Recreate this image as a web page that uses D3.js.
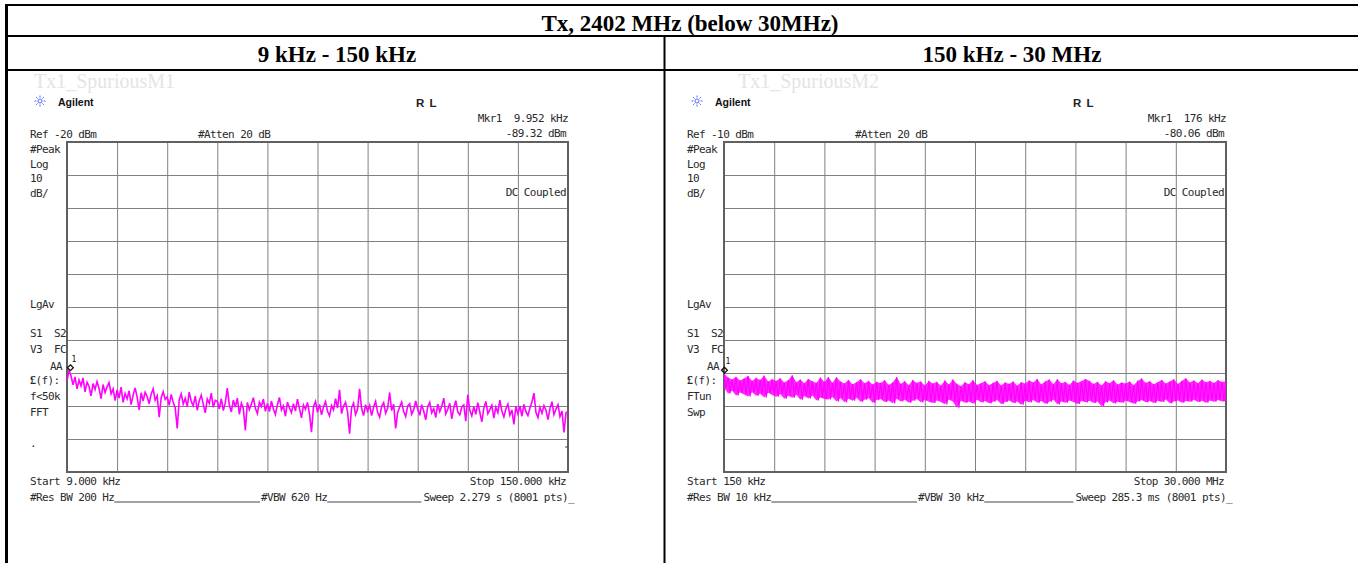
<!DOCTYPE html>
<html><head><meta charset="utf-8">
<script src="https://cdn.jsdelivr.net/npm/d3@7"></script>
<style>body{margin:0;background:#fff;} svg{display:block}</style>
</head><body>
<script>
// ---------------- DATA ----------------
const titleText = "Tx, 2402 MHz (below 30MHz)";
const bandTitles = ["9 kHz - 150 kHz", "150 kHz - 30 MHz"];
const plotNames = ["Tx1_SpuriousM1", "Tx1_SpuriousM2"];

const leftRefDbm = -20, rightRefDbm = -10;
const leftSpanKHz = [9, 150];
const rightSpanKHz = [150, 30000];
const leftMarker = {f: 9.952, v: -89.32};
const rightMarker = {f: 176, v: -80.06};

// left trace, dBm, sweep 9 kHz -> 150 kHz
const leftTrace = [
 -92.4,-89.3,-90.8,-93.6,-91.2,-94.8,-92.1,-93.9,-91.5,-95.7,-92.8,-94.1,-96.9,-93.2,-95.0,-92.6,-94.7,-97.8,-93.5,-95.9,-94.2,-92.9,-96.3,-94.8,-98.4,
 -95.1,-97.6,-94.3,-98.9,-96.2,-97.8,-95.4,-99.6,-96.7,-94.5,-97.3,-101.2,-96.0,-98.5,-95.8,-97.1,-99.3,-96.4,-94.8,-98.2,-96.9,-103.4,-97.5,-95.7,-98.0,
 -97.2,-99.8,-96.5,-98.9,-100.6,-106.8,-98.1,-96.3,-99.4,-97.7,-100.2,-95.8,-98.6,-99.9,-97.0,-101.3,-98.4,-96.7,-99.5,-102.1,-97.9,-99.2,-96.1,-100.4,-98.3,
 -98.6,-100.9,-97.8,-101.4,-99.0,-94.6,-99.7,-101.8,-98.2,-100.3,-97.6,-102.5,-99.1,-100.8,-107.4,-98.9,-101.1,-99.4,-97.5,-100.7,-102.3,-98.8,-100.1,-97.9,-101.6,
 -99.2,-101.7,-98.5,-100.9,-102.6,-99.6,-97.4,-101.2,-100.0,-103.1,-98.8,-100.6,-102.0,-99.3,-101.5,-97.9,-100.8,-103.6,-99.7,-101.0,-98.9,-102.4,-107.9,-100.2,-98.6,
 -101.9,-99.5,-102.7,-100.3,-98.7,-101.6,-103.0,-99.9,-101.2,-97.8,-100.6,-95.1,-102.3,-100.0,-98.9,-101.8,-108.4,-100.5,-99.1,-102.6,-101.0,-94.8,-100.7,-102.9,-99.6,
 -101.5,-99.8,-102.9,-100.4,-98.6,-101.9,-103.4,-100.1,-99.0,-102.2,-100.7,-95.9,-101.4,-99.5,-106.8,-102.0,-100.3,-98.8,-101.7,-103.2,-100.0,-99.3,-102.5,-101.1,-98.5,
 -100.9,-102.8,-99.6,-101.5,-104.2,-100.2,-98.9,-102.1,-100.8,-103.5,-99.4,-101.7,-100.1,-97.6,-102.4,-101.0,-99.2,-103.9,-100.6,-98.4,-101.8,-102.7,-100.3,-99.7,-104.6,
 -96.6,-101.3,-103.0,-100.2,-102.5,-99.0,-101.9,-104.8,-100.7,-98.6,-102.3,-101.1,-99.8,-103.7,-100.4,-102.0,-98.2,-101.5,-103.3,-100.9,-99.4,-102.8,-101.2,-105.6,-100.1,
 -102.4,-100.0,-103.1,-99.5,-101.7,-102.9,-100.6,-98.8,-96.1,-101.9,-103.5,-100.4,-102.2,-99.9,-101.3,-104.1,-100.8,-98.7,-102.6,-101.0,-99.6,-103.2,-101.5,-108.0,-102.1,-101.6
];

// right trace envelope (peak / floor per sweep bucket), dBm, 150 kHz -> 30 MHz
const rightTraceHi = [
 -80.1,-81.4,-82.0,-81.2,-82.3,-81.7,-80.9,-82.4,-81.5,-82.1,-80.8,-82.6,-81.9,
 -82.4,-81.6,-82.9,-82.2,-80.7,-82.8,-82.0,-83.1,-81.8,-82.5,-83.0,-81.4,-82.7,
 -81.2,-83.0,-81.3,-82.6,-83.2,-82.1,-83.4,-82.8,-81.9,-83.1,-82.4,-83.5,-82.7,
 -83.0,-82.2,-83.6,-82.9,-81.2,-83.3,-82.5,-83.7,-82.1,-83.0,-82.6,-83.8,-82.4,
 -83.2,-82.7,-83.9,-82.3,-83.5,-82.0,-83.3,-84.0,-82.8,-83.4,-82.2,-83.6,-83.1,
 -82.5,-83.7,-83.0,-82.4,-83.8,-82.9,-83.3,-82.6,-83.9,-82.8,-83.2,-82.3,-82.9,
 -81.8,-83.5,-82.6,-82.0,-83.4,-81.9,-83.1,-82.7,-83.6,-82.3,-83.0,-82.5,-81.8,
 -82.4,-83.3,-82.7,-83.8,-82.5,-83.1,-82.2,-83.5,-82.9,-83.2,-82.6,-83.7,-82.4,
 -81.7,-83.0,-82.5,-83.4,-82.8,-82.1,-83.2,-82.6,-81.9,-83.3,-82.4,-81.6,-82.9,
 -82.3,-83.1,-82.0,-82.8,-82.4,-83.0,-82.2,-82.7,-82.5
];
const rightTraceLo = [
 -84.5,-86.2,-85.4,-86.8,-85.9,-86.5,-87.1,-85.8,-86.9,-86.3,-87.4,-86.0,-86.7,
 -87.2,-86.4,-87.8,-86.9,-87.5,-86.6,-88.1,-87.0,-87.7,-86.8,-88.3,-87.4,-87.9,
 -88.0,-87.3,-88.6,-87.6,-88.9,-87.8,-88.4,-87.5,-88.7,-88.1,-87.6,-89.0,-88.2,
 -87.9,-88.8,-88.3,-89.2,-87.8,-88.6,-88.1,-89.0,-88.4,-87.9,-88.9,-88.2,-88.7,
 -89.1,-88.3,-88.8,-89.5,-88.0,-88.7,-90.5,-88.4,-89.0,-88.6,-89.3,-88.1,-88.9,
 -88.5,-89.2,-88.7,-88.2,-89.4,-88.8,-88.3,-89.1,-88.6,-89.6,-88.4,-88.9,-88.2,
 -89.0,-88.5,-89.3,-88.7,-88.1,-89.5,-88.6,-89.0,-88.3,-88.8,-89.4,-88.5,-88.9,
 -88.4,-89.1,-88.6,-90.1,-88.9,-88.3,-89.2,-88.7,-89.0,-88.4,-88.8,-89.3,-88.6,
 -88.2,-88.9,-88.5,-89.1,-88.4,-88.8,-88.0,-89.2,-88.6,-88.3,-89.0,-88.5,-88.7,
 -88.1,-88.8,-88.4,-89.0,-88.3,-88.7,-88.2,-88.6,-88.4
];

const leftTexts = {
  ref: "Ref -20 dBm", atten: "#Atten 20 dB", mkr: "Mkr1  9.952 kHz", mkrVal: "-89.32 dBm",
  side2: "f<50k", side3: "FFT", start: "Start 9.000 kHz", stop: "Stop 150.000 kHz",
  rbw: "#Res BW 200 Hz", vbw: "#VBW 620 Hz", sweep: "Sweep 2.279 s (8001 pts)_"
};
const rightTexts = {
  ref: "Ref -10 dBm", atten: "#Atten 20 dB", mkr: "Mkr1  176 kHz", mkrVal: "-80.06 dBm",
  side2: "FTun", side3: "Swp", start: "Start 150 kHz", stop: "Stop 30.000 MHz",
  rbw: "#Res BW 10 kHz", vbw: "#VBW 30 kHz", sweep: "Sweep 285.3 ms (8001 pts)_"
};
const commonSide = ["#Peak", "Log", "10", "dB/"];

// ---------------- LAYOUT ----------------
const W = 1358, H = 563;
const svg = d3.select("body").append("svg").attr("width", W).attr("height", H);
svg.append("rect").attr("width", W).attr("height", H).attr("fill", "#fff");

const serif = "'Liberation Serif','Times New Roman',serif";
const mono = "'DejaVu Sans Mono',monospace";
const sans = "'Liberation Sans',Arial,sans-serif";

// table
const tbl = svg.append("g").attr("stroke", "#000");
tbl.append("line").attr("x1", 5).attr("x2", W).attr("y1", 5).attr("y2", 5).attr("stroke-width", 2);
tbl.append("line").attr("x1", 5).attr("x2", W).attr("y1", 36).attr("y2", 36).attr("stroke-width", 2);
tbl.append("line").attr("x1", 5).attr("x2", W).attr("y1", 70).attr("y2", 70).attr("stroke-width", 2);
tbl.append("line").attr("x1", 6.5).attr("x2", 6.5).attr("y1", 4).attr("y2", H).attr("stroke-width", 3);
tbl.append("line").attr("x1", 664.5).attr("x2", 664.5).attr("y1", 36).attr("y2", H).attr("stroke-width", 2);

svg.append("text").attr("x", 690).attr("y", 31).attr("text-anchor", "middle")
  .attr("font-family", serif).attr("font-weight", "bold").attr("font-size", 23).text(titleText);
const bandCx = [337, 1012];
bandTitles.forEach((t, i) => svg.append("text").attr("x", bandCx[i]).attr("y", 62)
  .attr("text-anchor", "middle").attr("font-family", serif).attr("font-weight", "bold")
  .attr("font-size", 23).text(t));
const nameX = [34, 738];
plotNames.forEach((t, i) => svg.append("text").attr("x", nameX[i]).attr("y", 88)
  .attr("font-family", serif).attr("font-size", 20).attr("fill", "#e4e4e4").text(t));

const panels = [
  {gx: 67, gy: 142, gw: 501, gh: 330, ref: leftRefDbm, span: leftSpanKHz, marker: leftMarker, texts: leftTexts, kind: "line", id: 0},
  {gx: 724, gy: 142, gw: 502, gh: 330, ref: rightRefDbm, span: rightSpanKHz, marker: rightMarker, texts: rightTexts, kind: "band", id: 1}
];

function txt(g, x, y, s, anchor) {
  return g.append("text").attr("x", x).attr("y", y).attr("text-anchor", anchor || "start")
    .attr("font-family", mono).attr("font-size", 11).attr("letter-spacing", "-0.6px")
    .attr("xml:space", "preserve").style("white-space", "pre")
    .attr("fill", "#2a2a2a").text(s);
}

panels.forEach(p => {
  const g = svg.append("g");
  const x = d3.scaleLinear().domain(p.span).range([p.gx, p.gx + p.gw]);
  const y = d3.scaleLinear().domain([p.ref - 100, p.ref]).range([p.gy + p.gh, p.gy]);
  const xTicks = d3.range(11).map(i => p.span[0] + i * (p.span[1] - p.span[0]) / 10);
  const yTicks = d3.range(11).map(i => p.ref - 10 * i);

  // grid via axes
  const gxAxis = g.append("g").attr("transform", `translate(0,${p.gy + p.gh})`)
    .call(d3.axisBottom(x).tickValues(xTicks).tickSize(-p.gh).tickFormat(""));
  const gyAxis = g.append("g").attr("transform", `translate(${p.gx},0)`)
    .call(d3.axisLeft(y).tickValues(yTicks).tickSize(-p.gw).tickFormat(""));
  [gxAxis, gyAxis].forEach(a => {
    a.select(".domain").remove();
    a.selectAll("line").attr("stroke", "#808080").attr("stroke-width", 1);
  });
  g.append("rect").attr("x", p.gx).attr("y", p.gy).attr("width", p.gw).attr("height", p.gh)
    .attr("fill", "none").attr("stroke", "#606060").attr("stroke-width", 2);

  // header: logo
  const lx = p.gx - 27, ly = 101;
  const star = g.append("g").attr("transform", `translate(${lx},${ly})`).attr("stroke", "#5566ff").attr("stroke-width", 1);
  star.append("circle").attr("r", 2).attr("fill", "none");
  d3.range(8).forEach(k => {
    const a = k * Math.PI / 4;
    star.append("line").attr("x1", Math.cos(a) * 3.5).attr("y1", Math.sin(a) * 3.5)
      .attr("x2", Math.cos(a) * 5.5).attr("y2", Math.sin(a) * 5.5);
  });
  g.append("text").attr("x", p.gx - 9).attr("y", 106).attr("font-family", sans).attr("font-weight", "bold")
    .attr("font-size", 10.5).attr("fill", "#111").text("Agilent");
  g.append("text").attr("x", p.gx + 349).attr("y", 107).attr("font-family", sans).attr("font-weight", "bold")
    .attr("font-size", 11.5).attr("fill", "#222").attr("letter-spacing", "1px").text("R L");

  const L = p.gx - 37, R = p.gx + p.gw;
  txt(g, R, 122, p.texts.mkr, "end");
  txt(g, R - 2, 137, p.texts.mkrVal, "end");
  txt(g, L, 138, p.texts.ref);
  txt(g, p.gx + 131, 138, p.texts.atten);
  commonSide.forEach((s, i) => txt(g, L, 153 + i * 14.7, s));
  txt(g, R - 2, 196, "DC Coupled", "end");
  txt(g, L, 308, "LgAv");
  txt(g, L, 337, "S1  S2");
  txt(g, L, 353, "V3  FC");
  txt(g, p.gx - 17, 370, "AA");
  const f = txt(g, L, 384, "");
  f.append("tspan").attr("font-weight", "bold").attr("font-family", serif).attr("font-size", 12).text("£");
  f.append("tspan").text("(f):");
  txt(g, L, 400, p.texts.side2);
  txt(g, L, 416, p.texts.side3);
  if (p.id === 0) {
    txt(g, L, 447, ".");
    g.append("line").attr("x1", R - 3).attr("x2", R).attr("y1", 447).attr("y2", 447).attr("stroke", "#444");
  }
  txt(g, L, 485, p.texts.start);
  txt(g, R - 2, 485, p.texts.stop, "end");
  const rbw = txt(g, L, 501, p.texts.rbw);
  const vbw = txt(g, p.gx + 194, 501, p.texts.vbw);
  const sw = txt(g, R + 6, 501, p.texts.sweep, "end");
  const rbwEnd = L + rbw.node().getComputedTextLength();
  const vbwEnd = p.gx + 194 + vbw.node().getComputedTextLength();
  const swStart = R + 6 - sw.node().getComputedTextLength();
  g.append("line").attr("x1", rbwEnd).attr("x2", p.gx + 193).attr("y1", 502).attr("y2", 502).attr("stroke", "#444");
  g.append("line").attr("x1", vbwEnd).attr("x2", swStart - 2).attr("y1", 502).attr("y2", 502).attr("stroke", "#444");

  // traces
  const clipId = "clip" + p.id;
  svg.append("clipPath").attr("id", clipId).append("rect")
    .attr("x", p.gx).attr("y", p.gy).attr("width", p.gw).attr("height", p.gh);
  const tg = g.append("g").attr("clip-path", `url(#${clipId})`);
  if (p.kind === "line") {
    const n = leftTrace.length;
    const fr = i => p.span[0] + i * (p.span[1] - p.span[0]) / (n - 1);
    tg.append("path").datum(leftTrace)
      .attr("d", d3.line().x((d, i) => x(fr(i))).y(d => y(d)))
      .attr("fill", "none").attr("stroke", "#ff00ff").attr("stroke-width", 1.6);
  } else {
    const n = rightTraceHi.length;
    const fr = i => p.span[0] + i * (p.span[1] - p.span[0]) / (n - 1);
    const idx = d3.range(n);
    tg.append("path").datum(idx)
      .attr("d", d3.area().x(i => x(fr(i))).y0(i => y(rightTraceLo[i])).y1(i => y(rightTraceHi[i])))
      .attr("fill", "#ff00ff").attr("fill-opacity", 0.85).attr("stroke", "none");
    // zig-zag between peak and floor of each bucket
    const zig = [];
    idx.forEach(i => { zig.push([fr(i), rightTraceHi[i]]); zig.push([fr(i) + (p.span[1] - p.span[0]) / (n - 1) / 2, rightTraceLo[i]]); });
    tg.append("path").datum(zig)
      .attr("d", d3.line().x(d => x(d[0])).y(d => y(d[1])))
      .attr("fill", "none").attr("stroke", "#ff00ff").attr("stroke-width", 1.2);
  }

  // marker
  const mx = x(p.marker.f), my = y(p.marker.v) - 3;
  g.append("path").attr("d", d3.symbol(d3.symbolDiamond2, 22)())
    .attr("transform", `translate(${mx},${my})`)
    .attr("fill", "none").attr("stroke", "#111").attr("stroke-width", 1.3);
  g.append("text").attr("x", mx + 1).attr("y", my - 6).attr("font-family", mono)
    .attr("font-size", 8).attr("fill", "#111").text("1");
});
</script>
</body></html>
